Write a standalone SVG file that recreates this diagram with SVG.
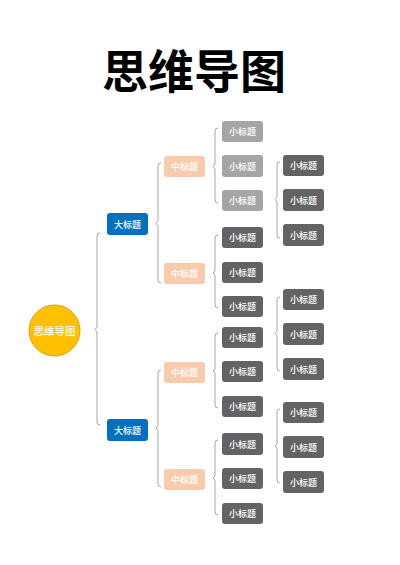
<svg xmlns="http://www.w3.org/2000/svg" width="400" height="565" viewBox="0 0 400 565">
<style>
.t{font-family:"Noto Sans CJK SC","Noto Sans CJK JP",sans-serif;text-anchor:middle;dominant-baseline:central;fill:#fff;font-size:9px;font-weight:500}
.big{fill:#0070C0}
.mid{fill:#F8CBAD}
.lg{fill:#A5A5A5}
.dg{fill:#636363}
.br{fill:none;stroke:#A6A6A6;stroke-width:1}
</style>
<rect width="400" height="565" fill="#fff"/>
<text x="194" y="68" style="font-family:'Noto Sans CJK SC','Noto Sans CJK JP',sans-serif;font-size:46px;font-weight:700;text-anchor:middle;dominant-baseline:central;fill:#000">思维导图</text>
<g id="connectors">
<path class="br" d="M100,233 Q97,233 97,236 L97,327 L95,329.5 L97,332 L97,422 Q97,425 100,425"/>
<path class="br" d="M161,163 Q158,163 158,166 L158,221 L156,223.5 L158,226 L158,280 Q158,283 161,283"/>
<path class="br" d="M161,370 Q158,370 158,373 L158,425 L156,428 L158,430 L158,484 Q158,487 161,487"/>
<path class="br" d="M218,128 Q215,128 215,131 L215,164 L213,166.5 L215,169 L215,200 Q215,203 218,203"/>
<path class="br" d="M218,235 Q215,235 215,238 L215,271 L213,273 L215,275 L215,305 Q215,308 218,308"/>
<path class="br" d="M218,333 Q215,333 215,336 L215,369 L213,371 L215,373 L215,405 Q215,408 218,408"/>
<path class="br" d="M218,440 Q215,440 215,443 L215,476 L213,478 L215,480 L215,512 Q215,515 218,515"/>
<path class="br" d="M280,162 Q277,162 277,165 L277,197 L275,199.5 L277,202 L277,235 Q277,238 280,238"/>
<path class="br" d="M280,297 Q277,297 277,300 L277,331 L275,333.5 L277,336 L277,368 Q277,371 280,371"/>
<path class="br" d="M280,409 Q277,409 277,412 L277,444 L275,446 L277,448 L277,480 Q277,483 280,483"/>
</g>
<g id="root">
<circle cx="54.5" cy="330.5" r="25.5" fill="#FFC000" stroke="#D9A400" stroke-width="1"/>
<text class="t" x="54.5" y="330.5" style="font-size:10.5px">思维导图</text>
</g>
<g id="big1"><rect class="big" x="107" y="213" width="41" height="22" rx="3"/><text class="t" x="127.5" y="224">大标题</text></g>
<g id="big2"><rect class="big" x="107" y="419" width="41" height="22" rx="3"/><text class="t" x="127.5" y="430">大标题</text></g>
<g id="mid1"><rect class="mid" x="164" y="156" width="41" height="21" rx="3"/><text class="t" x="184.5" y="166.5">中标题</text></g>
<g id="mid2"><rect class="mid" x="164" y="263" width="41" height="21" rx="3"/><text class="t" x="184.5" y="273.5">中标题</text></g>
<g id="mid3"><rect class="mid" x="164" y="362" width="41" height="21" rx="3"/><text class="t" x="184.5" y="372.5">中标题</text></g>
<g id="mid4"><rect class="mid" x="164" y="469" width="41" height="21" rx="3"/><text class="t" x="184.5" y="479.5">中标题</text></g>
<g id="s1"><rect class="lg" x="222" y="121" width="41" height="21" rx="3"/><text class="t" x="242.5" y="131.5">小标题</text></g>
<g id="s2"><rect class="lg" x="222" y="155" width="41" height="22" rx="3"/><text class="t" x="242.5" y="166">小标题</text></g>
<g id="s3"><rect class="lg" x="222" y="190" width="41" height="21" rx="3"/><text class="t" x="242.5" y="200.5">小标题</text></g>
<g id="s4"><rect class="dg" x="222" y="227" width="41" height="21" rx="3"/><text class="t" x="242.5" y="237.5">小标题</text></g>
<g id="s5"><rect class="dg" x="222" y="262" width="41" height="21" rx="3"/><text class="t" x="242.5" y="272.5">小标题</text></g>
<g id="s6"><rect class="dg" x="222" y="296" width="41" height="21" rx="3"/><text class="t" x="242.5" y="306.5">小标题</text></g>
<g id="s7"><rect class="dg" x="222" y="327" width="41" height="21" rx="3"/><text class="t" x="242.5" y="337.5">小标题</text></g>
<g id="s8"><rect class="dg" x="222" y="361" width="41" height="21" rx="3"/><text class="t" x="242.5" y="371.5">小标题</text></g>
<g id="s9"><rect class="dg" x="222" y="396" width="41" height="21" rx="3"/><text class="t" x="242.5" y="406.5">小标题</text></g>
<g id="s10"><rect class="dg" x="222" y="433" width="41" height="22" rx="3"/><text class="t" x="242.5" y="444">小标题</text></g>
<g id="s11"><rect class="dg" x="222" y="468" width="41" height="21" rx="3"/><text class="t" x="242.5" y="478.5">小标题</text></g>
<g id="s12"><rect class="dg" x="222" y="503" width="41" height="21" rx="3"/><text class="t" x="242.5" y="513.5">小标题</text></g>
<g id="d1"><rect class="dg" x="283" y="155" width="41" height="21" rx="3"/><text class="t" x="303.5" y="165.5">小标题</text></g>
<g id="d2"><rect class="dg" x="283" y="189" width="41" height="22" rx="3"/><text class="t" x="303.5" y="200">小标题</text></g>
<g id="d3"><rect class="dg" x="283" y="224" width="41" height="22" rx="3"/><text class="t" x="303.5" y="235">小标题</text></g>
<g id="d4"><rect class="dg" x="283" y="289" width="41" height="21" rx="3"/><text class="t" x="303.5" y="299.5">小标题</text></g>
<g id="d5"><rect class="dg" x="283" y="323" width="41" height="22" rx="3"/><text class="t" x="303.5" y="334">小标题</text></g>
<g id="d6"><rect class="dg" x="283" y="358" width="41" height="22" rx="3"/><text class="t" x="303.5" y="369">小标题</text></g>
<g id="d7"><rect class="dg" x="283" y="402" width="41" height="21" rx="3"/><text class="t" x="303.5" y="412.5">小标题</text></g>
<g id="d8"><rect class="dg" x="283" y="436" width="41" height="22" rx="3"/><text class="t" x="303.5" y="447">小标题</text></g>
<g id="d9"><rect class="dg" x="283" y="471" width="41" height="22" rx="3"/><text class="t" x="303.5" y="482">小标题</text></g>
</svg>
